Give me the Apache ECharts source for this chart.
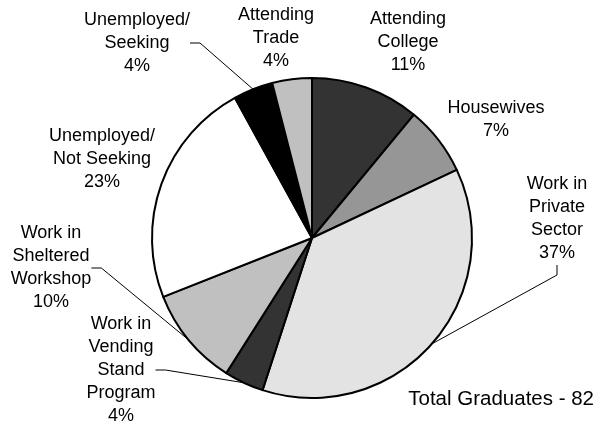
<!DOCTYPE html>
<html>
<head>
<meta charset="utf-8">
<script src="https://cdn.jsdelivr.net/npm/echarts@6/dist/echarts.min.js"></script>
<style>
  html, body { margin: 0; padding: 0; background: #fff; }
  #chart { width: 600px; height: 427px; }
</style>
</head>
<body>
<div id="chart"></div>
<script>
// slices, clockwise from 12 o'clock
const categories = [
  "Attending\nCollege",
  "Housewives",
  "Work in\nPrivate\nSector",
  "Work in\nVending\nStand\nProgram",
  "Work in\nSheltered\nWorkshop",
  "Unemployed/\nNot Seeking",
  "Unemployed/\nSeeking",
  "Attending\nTrade"
];
const percents = [11, 7, 37, 4, 10, 23, 4, 4];
const fills = ["#333333", "#969696", "#e3e3e3", "#333333", "#c0c0c0", "#ffffff", "#000000", "#c0c0c0"];
const hasLeader = [false, false, true, true, true, false, true, false];
const totalText = "Total Graduates - 82";

// label block centres (px)
const labelPos = [
  [408, 42], [496, 120], [557, 219], [121, 370],
  [51, 268], [102, 159], [137, 43], [276, 38]
];

const chart = echarts.init(document.getElementById("chart"));

chart.setOption({
  backgroundColor: "#fff",
  animation: false,
  title: {
    text: totalText,
    right: 1,
    bottom: 12,
    textStyle: {
      fontFamily: "Liberation Sans",
      fontSize: 20.5,
      fontWeight: "normal",
      color: "#000"
    }
  },
  series: [
    {
      type: "pie",
      center: [312, 238],
      radius: 160,
      startAngle: 90,
      clockwise: true,
      avoidLabelOverlap: false,
      itemStyle: {
        borderColor: "#000",
        borderWidth: 2
      },
      label: {
        show: true,
        position: "outside",
        fontFamily: "Liberation Sans",
        fontSize: 18,
        lineHeight: 23,
        color: "#000",
        align: "center",
        formatter: p => p.name + "\n" + p.value + "%"
      },
      labelLine: {
        show: true,
        length: 10,
        length2: 10,
        lineStyle: { color: "#000", width: 1 }
      },
      labelLayout: p => ({
        x: labelPos[p.dataIndex][0],
        y: labelPos[p.dataIndex][1],
        align: "center",
        verticalAlign: "middle"
      }),
      emphasis: { disabled: true },
      data: categories.map((c, i) => ({
        name: c,
        value: percents[i],
        itemStyle: { color: fills[i] },
        labelLine: { show: hasLeader[i] }
      }))
    }
  ]
});
</script>
</body>
</html>
